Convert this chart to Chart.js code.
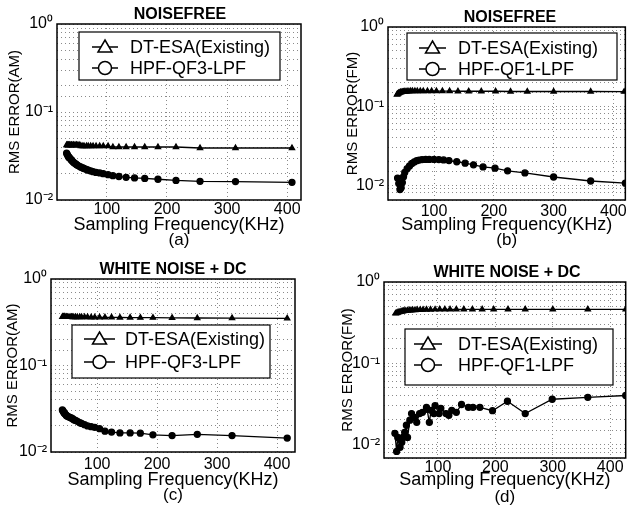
<!DOCTYPE html>
<html>
<head>
<meta charset="utf-8">
<title>RMS error vs sampling frequency</title>
<style>
  body { margin: 0; background: #fff; }
  .panel { position: absolute; }
</style>
</head>
<body>
<div class="panel" style="left:0px;top:0px"><canvas id="chart-a" width="315" height="250"></canvas></div>
<div class="panel" style="left:315px;top:0px"><canvas id="chart-b" width="316" height="250"></canvas></div>
<div class="panel" style="left:0px;top:250px"><canvas id="chart-c" width="315" height="258"></canvas></div>
<div class="panel" style="left:315px;top:250px"><canvas id="chart-d" width="316" height="258"></canvas></div>

<script src="https://cdn.jsdelivr.net/npm/chart.js"></script>
<script>
  // (a) noisefree, AM
  const aFreq = [33, 34, 35, 36, 37, 38, 40, 41, 42, 44, 45, 47, 49, 50, 52, 55, 57, 60, 62, 66, 69, 73, 77, 82, 88, 94, 102, 110, 120, 132, 146, 163, 185, 215, 255, 314, 408];
  const aExisting = [0.042, 0.042, 0.042, 0.042, 0.042, 0.042, 0.042, 0.042, 0.042, 0.042, 0.042, 0.042, 0.042, 0.042, 0.042, 0.042, 0.041, 0.041, 0.041, 0.041, 0.041, 0.041, 0.041, 0.041, 0.041, 0.041, 0.041, 0.040, 0.040, 0.040, 0.040, 0.040, 0.040, 0.040, 0.039, 0.039, 0.039];
  const aProposed = [0.034, 0.033, 0.032, 0.031, 0.0305, 0.030, 0.029, 0.0285, 0.028, 0.027, 0.0266, 0.026, 0.0254, 0.0251, 0.0246, 0.0240, 0.0236, 0.0231, 0.0228, 0.0222, 0.0218, 0.0214, 0.0210, 0.0206, 0.0203, 0.0199, 0.0194, 0.0189, 0.0185, 0.0181, 0.0178, 0.0176, 0.0172, 0.0167, 0.0163, 0.0162, 0.0159];

  // (b) noisefree, FM
  const bFreqExisting = [38, 39, 40, 41, 42, 44, 45, 47, 49, 51, 53, 55, 58, 61, 64, 68, 72, 77, 82, 89, 96, 104, 114, 126, 140, 158, 179, 203, 228, 256, 300, 362, 418];
  const bExisting = [0.140, 0.142, 0.144, 0.146, 0.147, 0.149, 0.150, 0.151, 0.152, 0.153, 0.153, 0.154, 0.154, 0.155, 0.155, 0.155, 0.155, 0.155, 0.155, 0.155, 0.155, 0.155, 0.155, 0.155, 0.154, 0.154, 0.154, 0.154, 0.153, 0.153, 0.153, 0.153, 0.152];
  const bFreqProposed = [39, 41, 43, 45, 47, 49, 51, 55, 59, 63, 67, 71, 75, 80, 86, 92, 100, 108, 116, 125, 138, 152, 166, 182, 202, 223, 252, 300, 362, 420];
  const bProposed = [0.0123, 0.0105, 0.0088, 0.0093, 0.0108, 0.0128, 0.0145, 0.0162, 0.0175, 0.0188, 0.0197, 0.0204, 0.0208, 0.0211, 0.0212, 0.0212, 0.0212, 0.0211, 0.0209, 0.0205, 0.0198, 0.0190, 0.0181, 0.0170, 0.0164, 0.0152, 0.0143, 0.0127, 0.0113, 0.0106];

  // (c) white noise + dc, AM
  const cFreq = [42, 43, 44, 45, 46, 48, 49, 51, 53, 55, 57, 59, 61, 64, 67, 71, 74, 79, 84, 90, 96, 104, 113, 124, 138, 155, 172, 193, 225, 267, 325, 417];
  const cExisting = [0.365, 0.365, 0.365, 0.365, 0.365, 0.365, 0.364, 0.364, 0.364, 0.364, 0.364, 0.363, 0.363, 0.363, 0.363, 0.363, 0.362, 0.362, 0.362, 0.361, 0.361, 0.361, 0.360, 0.360, 0.359, 0.358, 0.357, 0.357, 0.355, 0.354, 0.353, 0.351];
  const cProposed = [0.0306, 0.0298, 0.029, 0.0283, 0.0277, 0.0268, 0.0263, 0.0257, 0.0255, 0.0250, 0.0248, 0.0243, 0.0236, 0.0232, 0.0226, 0.0218, 0.0214, 0.0207, 0.0200, 0.0196, 0.0193, 0.0186, 0.0174, 0.0170, 0.0166, 0.0166, 0.0165, 0.0158, 0.0155, 0.0160, 0.0155, 0.0145];

  // (d) white noise + dc, FM
  const dFreqExisting = [26, 28, 30, 32, 34, 36, 38, 40, 42, 44, 47, 50, 53, 56, 60, 64, 69, 74, 80, 87, 95, 103, 112, 121, 132, 145, 160, 177, 197, 222, 252, 300, 361, 427];
  const dExisting = [0.41, 0.415, 0.42, 0.425, 0.43, 0.433, 0.436, 0.438, 0.44, 0.442, 0.445, 0.447, 0.449, 0.45, 0.452, 0.453, 0.455, 0.456, 0.457, 0.458, 0.459, 0.46, 0.46, 0.46, 0.46, 0.46, 0.46, 0.46, 0.46, 0.46, 0.46, 0.46, 0.46, 0.46];
  const dFreqProposed = [25, 28, 30, 34, 37, 39, 42, 45, 47, 51, 54, 59, 63, 68, 73, 80, 81, 85, 88, 93, 95, 102, 105, 114, 119, 124, 132, 141, 153, 161, 173, 195, 221, 252, 299, 361, 427];
  const dProposed = [0.0137, 0.0082, 0.0122, 0.0092, 0.0106, 0.0122, 0.0141, 0.0172, 0.0122, 0.0199, 0.0240, 0.0215, 0.0187, 0.0240, 0.0248, 0.0286, 0.0270, 0.0187, 0.0263, 0.0240, 0.0300, 0.0240, 0.0278, 0.0240, 0.0228, 0.0263, 0.0248, 0.0310, 0.0286, 0.0286, 0.0286, 0.0260, 0.0340, 0.0240, 0.0360, 0.0380, 0.0400];

  const freqLabels = [100, 200, 300, 400];
  const FONT = "'Liberation Sans', Arial, sans-serif";

  function pts(xs, ys) {
    return xs.map((x, i) => ({ x: x, y: ys[i] }));
  }

  function sup(n) {
    const m = { '-': '\u207B', '0': '\u2070', '1': '\u00B9', '2': '\u00B2' };
    return String(n).split('').map(c => m[c]).join('');
  }

  // box round the axes, title over it, panel letter and the legend
  const panelPlugin = {
    id: 'panel',
    afterDraw(chart, args, o) {
      const ctx = chart.ctx;
      const a = chart.chartArea;
      ctx.save();
      ctx.strokeStyle = '#000';
      ctx.lineWidth = 1.5;
      ctx.strokeRect(a.left, a.top, a.right - a.left, a.bottom - a.top);

      ctx.fillStyle = '#000';
      ctx.textBaseline = 'middle';
      ctx.textAlign = 'center';
      ctx.font = 'bold 16px ' + FONT;
      ctx.fillText(o.title, o.titleX, o.titleY);
      ctx.font = '17px ' + FONT;
      ctx.fillText(o.letter, (a.left + a.right) / 2, o.letterY);

      // legend
      const lg = o.legend;
      ctx.fillStyle = '#fff';
      ctx.fillRect(lg.x, lg.y, lg.w, lg.h);
      ctx.lineWidth = 1.2;
      ctx.strokeRect(lg.x, lg.y, lg.w, lg.h);
      chart.data.datasets.forEach((ds, i) => {
        const y = lg.rows[i];
        const mx = (lg.line[0] + lg.line[1]) / 2;
        ctx.strokeStyle = '#000';
        ctx.lineWidth = 1.5;
        ctx.beginPath();
        ctx.moveTo(lg.line[0], y);
        ctx.lineTo(lg.line[1], y);
        ctx.stroke();
        ctx.beginPath();
        if (ds.pointStyle === 'triangle') {
          ctx.moveTo(mx, y - 7);
          ctx.lineTo(mx + 7, y + 5);
          ctx.lineTo(mx - 7, y + 5);
          ctx.closePath();
        } else {
          ctx.arc(mx, y, 6.5, 0, Math.PI * 2);
        }
        ctx.fillStyle = '#fff';
        ctx.fill();
        ctx.stroke();
        ctx.fillStyle = '#000';
        ctx.textAlign = 'left';
        ctx.font = '18px ' + FONT;
        ctx.fillText(ds.label, lg.textX, y + 1);
      });
      ctx.restore();
    }
  };

  function makeChart(id, cfg) {
    const ctx = document.getElementById(id).getContext('2d');
    return new Chart(ctx, {
      type: 'line',
      data: {
        datasets: [{
          label: 'DT-ESA(Existing)',
          data: cfg.existing,
          borderColor: '#000',
          borderWidth: 1.3,
          pointStyle: 'triangle',
          pointRadius: 3,
          pointBackgroundColor: '#000',
          pointBorderColor: '#000',
          tension: 0
        }, {
          label: cfg.proposedLabel,
          data: cfg.proposed,
          borderColor: '#000',
          borderWidth: 1.3,
          pointStyle: 'circle',
          pointRadius: 3,
          pointBackgroundColor: '#000',
          pointBorderColor: '#000',
          tension: 0
        }]
      },
      plugins: [panelPlugin],
      options: {
        responsive: false,
        animation: false,
        layout: { padding: { top: cfg.top, right: cfg.right, left: 0, bottom: 0 } },
        plugins: {
          legend: { display: false },
          tooltip: { enabled: false },
          panel: cfg.panel
        },
        scales: {
          x: {
            type: 'linear',
            min: cfg.xMin,
            max: cfg.xMax,
            afterFit: (s) => { s.height = cfg.xHeight; },
            // ticks only at the labelled frequencies
            afterBuildTicks: (s) => { s.ticks = freqLabels.map(v => ({ value: v })); },
            grid: { color: '#8a8a8a', drawTicks: false },
            border: { display: false, dash: [1, 3] },
            ticks: {
              autoSkip: false,
              maxRotation: 0,
              padding: cfg.xTickPad,
              color: '#000',
              font: { family: FONT, size: 16, lineHeight: 1 },
              callback: (v) => String(v)
            },
            title: {
              display: true,
              text: 'Sampling Frequency(KHz)',
              color: '#000',
              font: { family: FONT, size: 18, lineHeight: 1 },
              padding: { top: 0, bottom: cfg.xTitlePad }
            }
          },
          y: {
            type: 'logarithmic',
            min: cfg.yMin,
            max: 1,
            afterFit: (s) => { s.width = cfg.yWidth; },
            grid: { color: '#8a8a8a', drawTicks: false },
            border: { display: false, dash: [1, 3] },
            ticks: {
              autoSkip: false,
              padding: 4,
              color: '#000',
              font: { family: FONT, size: 16 },
              callback: (v) => {
                const e = Math.log10(v);
                return Math.abs(e - Math.round(e)) < 1e-6 ? '10' + sup(Math.round(e)) : '';
              }
            },
            title: {
              display: true,
              text: cfg.yTitle,
              color: '#000',
              font: { family: FONT, size: 15, lineHeight: 1.2 },
              padding: { top: cfg.yTitlePad, bottom: 0 }
            }
          }
        }
      }
    });
  }

  makeChart('chart-a', {
    existing: pts(aFreq, aExisting), proposed: pts(aFreq, aProposed), proposedLabel: 'HPF-QF3-LPF',
    top: 24, right: 14, xHeight: 50, yWidth: 57, xMin: 17, xMax: 423, yMin: 0.01,
    xTickPad: 2, xTitlePad: 16, yTitle: 'RMS ERROR(AM)', yTitlePad: 6,
    panel: { title: 'NOISEFREE', titleX: 180, titleY: 15, letter: '(a)', letterY: 240,
      legend: { x: 79, y: 32, w: 201, h: 48, rows: [47, 68], line: [92, 118], textX: 130 } }
  });

  makeChart('chart-b', {
    existing: pts(bFreqExisting, bExisting), proposed: pts(bFreqProposed, bProposed), proposedLabel: 'HPF-QF1-LPF',
    top: 27, right: 1, xHeight: 50, yWidth: 73, xMin: 23, xMax: 420, yMin: 0.0065,
    xTickPad: 4, xTitlePad: 16, yTitle: 'RMS ERROR(FM)', yTitlePad: 29,
    panel: { title: 'NOISEFREE', titleX: 195, titleY: 18, letter: '(b)', letterY: 240,
      legend: { x: 92, y: 33, w: 210, h: 47, rows: [48, 69], line: [104, 131], textX: 143 } }
  });

  makeChart('chart-c', {
    existing: pts(cFreq, cExisting), proposed: pts(cFreq, cProposed), proposedLabel: 'HPF-QF3-LPF',
    top: 29, right: 20, xHeight: 56, yWidth: 51, xMin: 23, xMax: 430, yMin: 0.01,
    xTickPad: 5, xTitlePad: 19, yTitle: 'RMS ERROR(AM)', yTitlePad: 4,
    panel: { title: 'WHITE NOISE + DC', titleX: 173, titleY: 20, letter: '(c)', letterY: 245,
      legend: { x: 72, y: 75, w: 198, h: 53, rows: [89, 112], line: [84, 115], textX: 125 } }
  });

  makeChart('chart-d', {
    existing: pts(dFreqExisting, dExisting), proposed: pts(dFreqProposed, dProposed), proposedLabel: 'HPF-QF1-LPF',
    top: 32, right: 0, xHeight: 50, yWidth: 69, xMin: 6, xMax: 427, yMin: 0.0068,
    xTickPad: 2, xTitlePad: 19, yTitle: 'RMS ERROR(FM)', yTitlePad: 24,
    panel: { title: 'WHITE NOISE + DC', titleX: 192, titleY: 23, letter: '(d)', letterY: 247,
      legend: { x: 90, y: 79, w: 208, h: 56, rows: [94, 115], line: [99, 127], textX: 143 } }
  });
</script>
</body>
</html>
